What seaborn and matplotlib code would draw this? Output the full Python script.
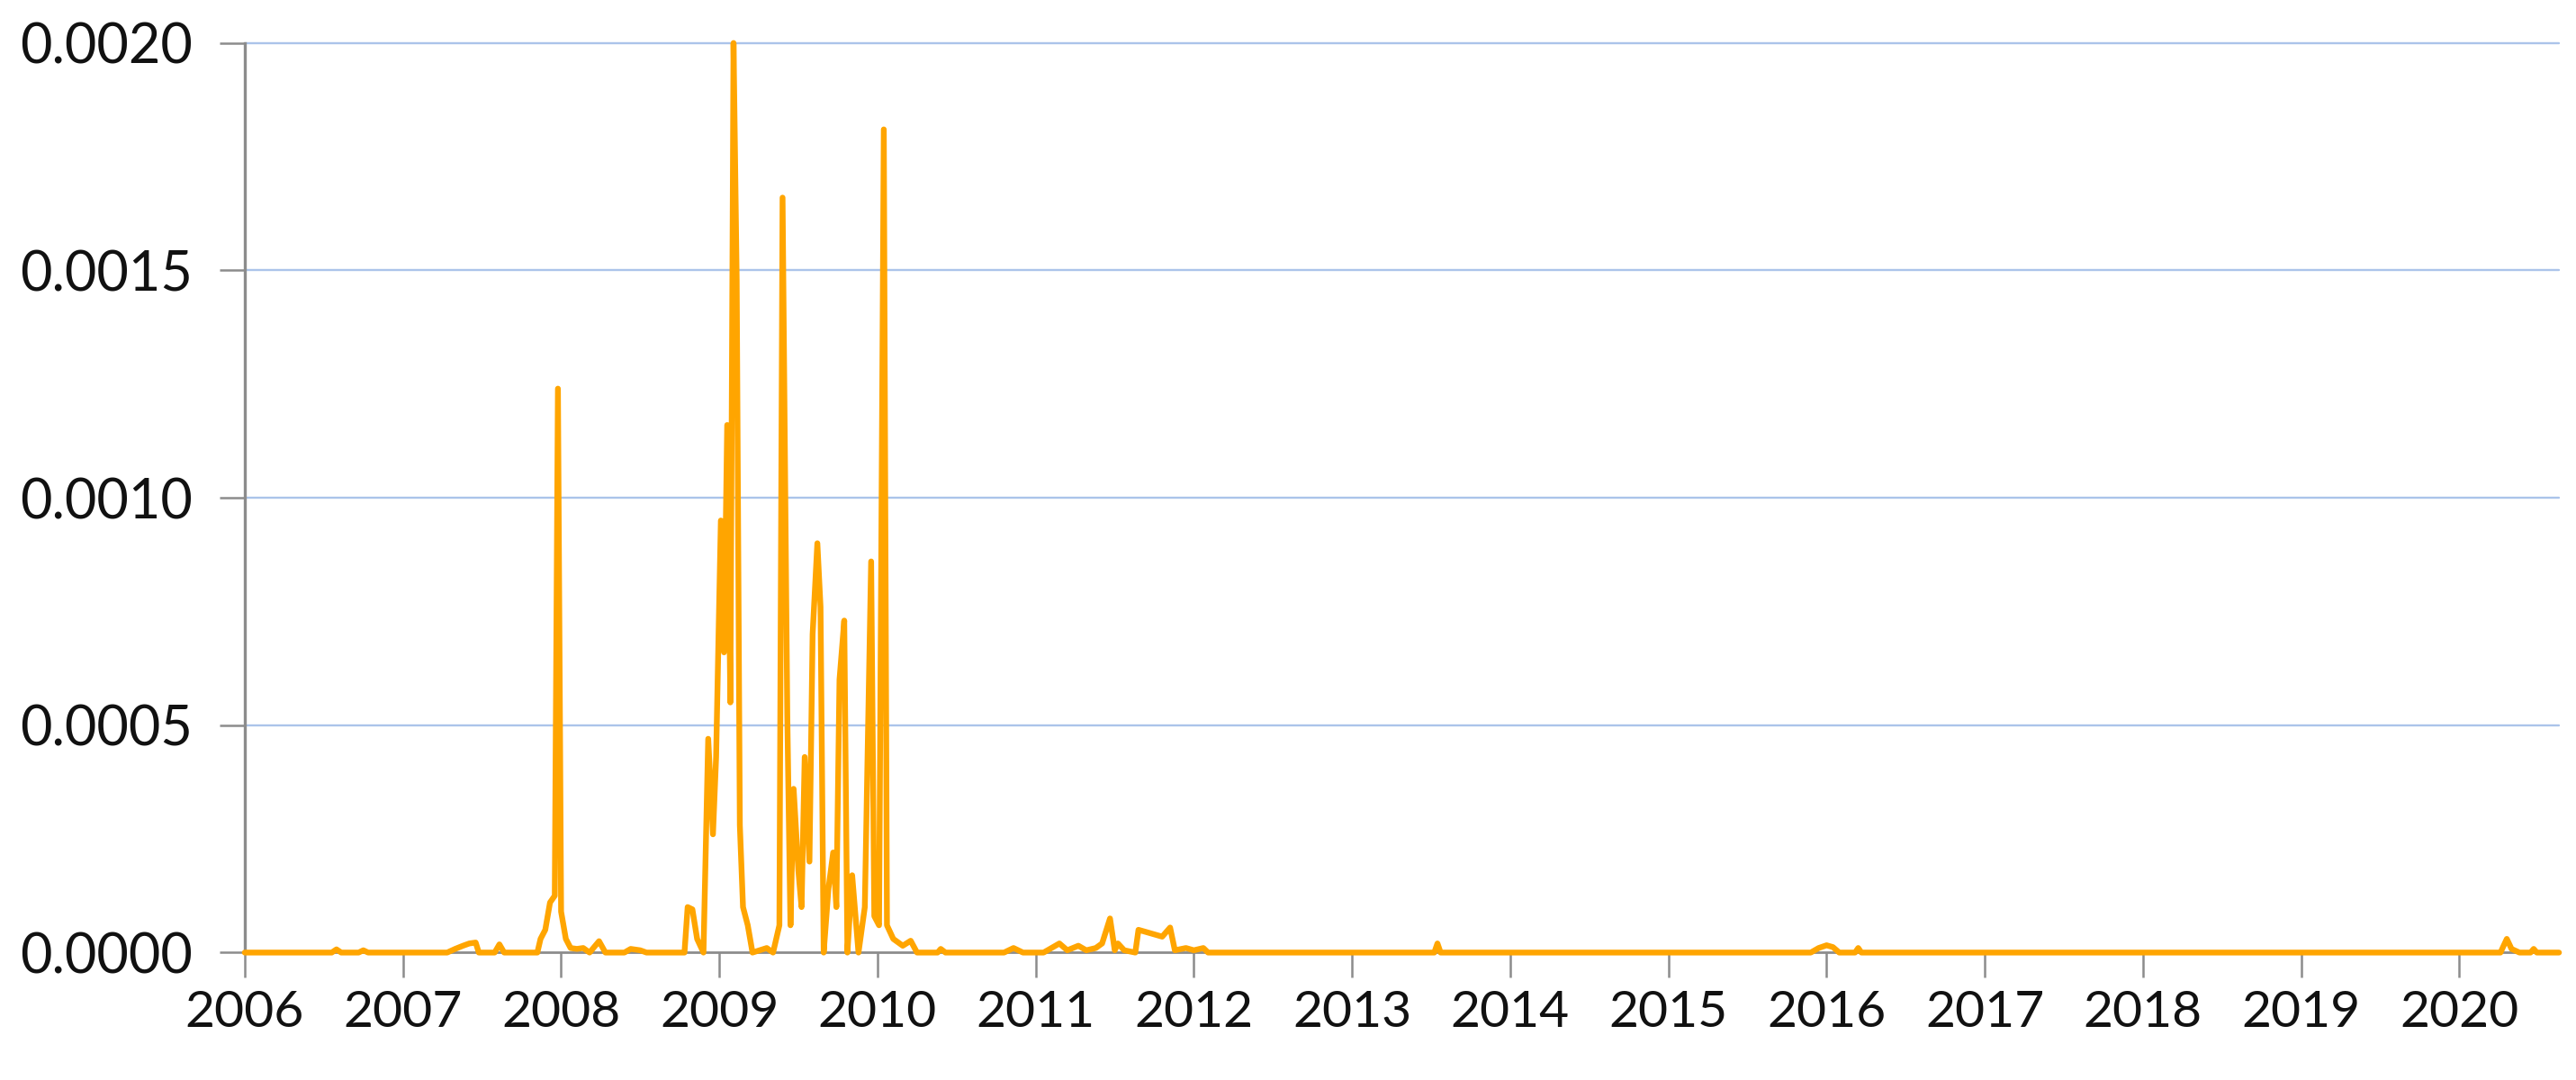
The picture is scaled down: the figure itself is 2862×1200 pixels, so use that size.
import pandas as pd
import matplotlib
matplotlib.use("Agg")
import matplotlib.pyplot as plt
from matplotlib.ticker import FormatStrFormatter
import seaborn as sns

# data: decimal year and value
years = [2006.00, 2006.55, 2006.58, 2006.61, 2006.72, 2006.75, 2006.78,
         2007.28, 2007.33, 2007.38, 2007.42, 2007.46, 2007.48, 2007.58,
         2007.61, 2007.64, 2007.85, 2007.87, 2007.90, 2007.93, 2007.96,
         2007.98, 2008.00, 2008.03, 2008.06, 2008.10, 2008.14, 2008.18,
         2008.24, 2008.28, 2008.40, 2008.44, 2008.50, 2008.54, 2008.78,
         2008.80, 2008.83, 2008.86, 2008.90, 2008.93, 2008.96, 2008.98,
         2009.01, 2009.03, 2009.05, 2009.07, 2009.09, 2009.11, 2009.13,
         2009.15, 2009.18, 2009.21, 2009.30, 2009.34, 2009.38, 2009.40,
         2009.43, 2009.45, 2009.47, 2009.50, 2009.52, 2009.54, 2009.57,
         2009.59, 2009.62, 2009.64, 2009.66, 2009.69, 2009.72, 2009.74,
         2009.76, 2009.79, 2009.81, 2009.84, 2009.88, 2009.92, 2009.96,
         2009.98, 2010.01, 2010.04, 2010.06, 2010.10, 2010.16, 2010.21,
         2010.25, 2010.38, 2010.40, 2010.43, 2010.80, 2010.86, 2010.92,
         2011.05, 2011.10, 2011.15, 2011.20, 2011.27, 2011.32, 2011.38,
         2011.42, 2011.47, 2011.50, 2011.52, 2011.56, 2011.63, 2011.65,
         2011.70, 2011.75, 2011.80, 2011.85, 2011.88, 2011.95, 2012.00,
         2012.06, 2012.09, 2013.52, 2013.54, 2013.56, 2015.90, 2015.95,
         2016.00, 2016.04, 2016.08, 2016.18, 2016.20, 2016.22, 2020.26,
         2020.30, 2020.33, 2020.38, 2020.45, 2020.47, 2020.49, 2020.63]

values = [0, 0, 0.000007, 0, 0, 0.000005, 0,
          0, 0.000008, 0.000015, 0.00002, 0.000022, 0, 0,
          0.000018, 0, 0, 0.00003, 0.00005, 0.00011, 0.000125,
          0.00124, 0.00009, 0.00003, 0.00001, 0.000008, 0.00001, 0,
          0.000025, 0, 0, 0.000008, 0.000005, 0, 0,
          0.0001, 0.000095, 0.00003, 0, 0.00047, 0.00026, 0.00043,
          0.00095, 0.00066, 0.00116, 0.00055, 0.002, 0.00148, 0.00028,
          0.0001, 0.00006, 0, 0.00001, 0, 0.00006, 0.00166,
          0.00052, 0.00006, 0.00036, 0.00018, 0.0001, 0.00043, 0.0002,
          0.0007, 0.0009, 0.00076, 0, 0.00014, 0.00022, 0.0001,
          0.0006, 0.00073, 0, 0.00017, 0, 0.0001, 0.00086,
          0.00008, 0.00006, 0.00181, 0.00006, 0.00003, 0.000015, 0.000026,
          0, 0, 0.000008, 0, 0, 0.00001, 0,
          0, 0.00001, 0.00002, 0.000005, 0.000015, 0.000005, 0.00001,
          0.00002, 0.000075, 0.000005, 0.00002, 0.000005, 0, 0.00005,
          0.000045, 0.00004, 0.000035, 0.000055, 0.000005, 0.00001, 0.000005,
          0.00001, 0, 0, 0.00002, 0, 0, 0.00001,
          0.000016, 0.000012, 0, 0, 0.00001, 0, 0,
          0.00003, 0.000008, 0, 0, 0.000008, 0, 0]

year_ticks = list(range(2006, 2021))
y_ticks = [0.0, 0.0005, 0.0010, 0.0015, 0.0020]

df = pd.DataFrame({"year": years, "value": values})

sns.set_style("white")
plt.rcParams["font.family"] = ["Lato", "DejaVu Sans"]

fig = plt.figure(figsize=(28.62, 12), dpi=100)
ax = fig.add_axes([0.095, 0.118, 0.8984, 0.8422])

# gridlines behind the series
for v in y_ticks[1:]:
    ax.axhline(v, color="#ABC4EA", linewidth=1.7, zorder=0)

sns.lineplot(data=df, x="year", y="value", color="#FFA500", linewidth=4.6,
             ax=ax, zorder=3)

ax.set_xlim(2006.0, 2020.63)
ax.set_ylim(0, 0.0020)
ax.set_xticks(year_ticks)
ax.set_xticklabels([str(y) for y in year_ticks])
ax.set_yticks(y_ticks)
ax.yaxis.set_major_formatter(FormatStrFormatter("%.4f"))
ax.set_xlabel("")
ax.set_ylabel("")

for s in ["top", "right"]:
    ax.spines[s].set_visible(False)
ax.spines["left"].set_color("#8C8C8C")
ax.spines["left"].set_linewidth(2.4)
ax.spines["bottom"].set_color("#8C8C8C")
ax.spines["bottom"].set_linewidth(2.0)

ax.tick_params(axis="x", direction="out", length=20, width=1.8, color="#8C8C8C",
               labelsize=41, pad=10, labelcolor="#111111")
ax.tick_params(axis="y", direction="out", length=20, width=1.8, color="#8C8C8C",
               labelsize=44, pad=22, labelcolor="#111111")
ax.tick_params(bottom=True, left=True)
for line in ax.lines:
    line.set_clip_on(False)

fig.savefig("out.png", dpi=100)
